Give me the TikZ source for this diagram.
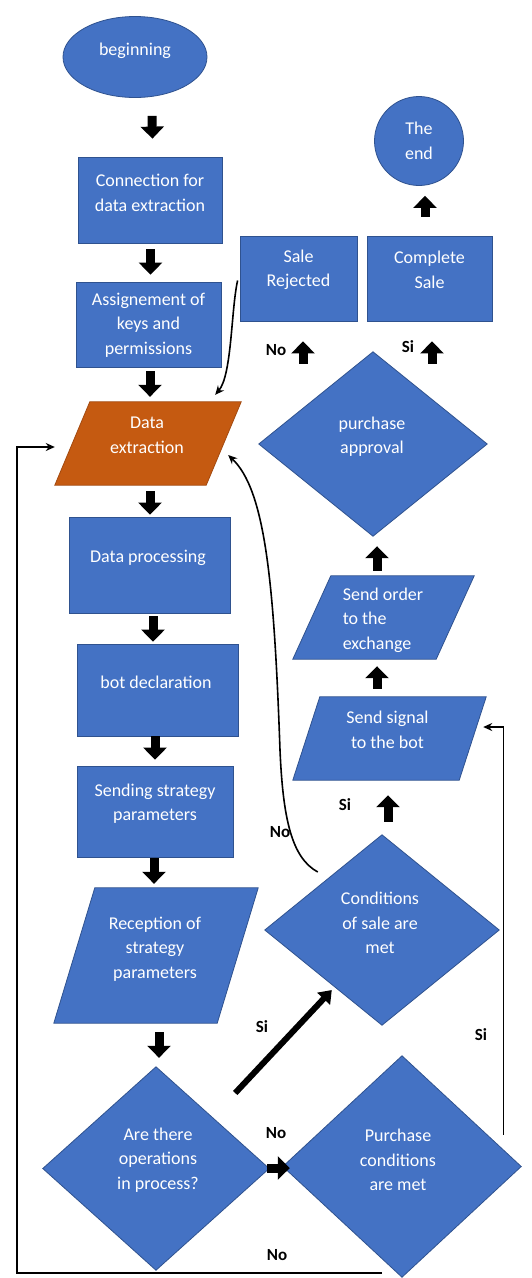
\documentclass[tikz,border=0pt]{standalone}
\usepackage{fontspec}
\setmainfont{Carlito}
\usetikzlibrary{arrows.meta,calc,shapes.geometric}
\definecolor{wblue}{HTML}{4472C4}
\definecolor{wbluedk}{HTML}{2F528F}
\definecolor{worange}{HTML}{C55A11}
\definecolor{worangedk}{HTML}{A34A10}
\begin{document}
\begin{tikzpicture}[x=1pt,y=-1pt,
  box/.style={rectangle, draw=wbluedk, fill=wblue, line width=0.8pt, inner sep=0pt},
  ell/.style={ellipse, draw=wbluedk, fill=wblue, line width=0.8pt, inner sep=0pt},
  holder/.style={rectangle, draw=none, inner sep=0pt},
  shp/.style={draw=wbluedk, fill=wblue, line width=0.8pt},
  txt/.style={text=white, align=center, inner sep=0pt, font=\fontsize{18}{24.5}\selectfont},
  lbl/.style={inner sep=0pt, font=\fontsize{17}{20}\selectfont\bfseries},
  blk/.style={line width=9pt, -{Triangle[width=23pt,length=12pt]}},
  diag/.style={line width=6pt, -{Triangle[width=17pt,length=12pt]}},
  thin/.style={line width=1.6pt, -{Stealth[width=8pt,length=9pt]}}
]
\fill[white] (0,0) rectangle (531,1278);
\useasboundingbox (0,0) rectangle (531,1278);

% ---- shape nodes ----
\node[ell, minimum width=144pt, minimum height=81pt] (beg) at (135,57) {};
\node[box, minimum width=144pt, minimum height=86pt] (conn) at (150,200) {};
\node[box, minimum width=145pt, minimum height=85pt] (assign) at (148.5,324.5) {};
\node[holder, minimum width=186pt, minimum height=83pt] (de) at (148,443.5) {};
\node[box, minimum width=161pt, minimum height=96pt] (dp) at (149.5,565) {};
\node[box, minimum width=161pt, minimum height=92pt] (bd) at (157.5,690) {};
\node[box, minimum width=156pt, minimum height=91pt] (ssp) at (155,811.5) {};
\node[holder, minimum width=204pt, minimum height=135pt] (rec) at (156,955.5) {};
\node[holder, minimum width=226pt, minimum height=203pt] (at) at (156,1168.5) {};
\node[holder, minimum width=238pt, minimum height=221pt] (pc) at (402,1166.5) {};
\node[holder, minimum width=234pt, minimum height=190pt] (cs) at (382,930) {};
\node[holder, minimum width=193pt, minimum height=83pt] (ss) at (389.5,738.5) {};
\node[holder, minimum width=181pt, minimum height=83pt] (so) at (383.5,617.5) {};
\node[holder, minimum width=228pt, minimum height=184pt] (pa) at (373,444) {};
\node[box, minimum width=117pt, minimum height=85pt] (sr) at (298.5,278.5) {};
\node[box, minimum width=125pt, minimum height=85pt] (cmp) at (429.5,278.5) {};
\node[circle, draw=wbluedk, fill=wblue, line width=0.8pt, inner sep=0pt, minimum size=89pt] (end) at (419,141) {};

% parallelograms
\path[draw=worangedk, fill=worange, line width=0.8pt] (de.south west) -- ($(de.south east)+(-35,0)$) -- (de.north east) -- ($(de.north west)+(35,0)$) -- cycle;
\path[shp] (so.south west) -- ($(so.south east)+(-38,0)$) -- (so.north east) -- ($(so.north west)+(38,0)$) -- cycle;
\path[shp] (ss.south west) -- ($(ss.south east)+(-27,0)$) -- (ss.north east) -- ($(ss.north west)+(27,0)$) -- cycle;
\path[shp] (rec.south west) -- ($(rec.south east)+(-41,0)$) -- (rec.north east) -- ($(rec.north west)+(41,0)$) -- cycle;
% diamonds
\foreach \n in {pa,cs,at,pc}{
  \path[shp] (\n.north) -- (\n.east) -- (\n.south) -- (\n.west) -- cycle;
}

% ---- texts ----
\node[txt] (beg-t) at (135,51) {beginning};
\node[txt] (conn-t) at (150,193) {Connection for\\data extraction};
\node[txt] (assign-t) at (148.5,325) {Assignement of\\keys and\\permissions};
\node[txt] (de-t) at (147,435.5) {Data\\extraction};
\node[txt] (dp-t) at (148,558) {Data processing};
\node[txt] (bd-t) at (156,682) {bot declaration};
\node[txt] (ssp-t) at (155,803.5) {Sending strategy\\parameters};
\node[txt] (rec-t) at (155,949) {Reception of\\strategy\\parameters};
\node[txt] (at-t) at (158,1160) {Are there\\operations\\in process?};
\node[txt] (pc-t) at (398,1160) {Purchase\\conditions\\are met};
\node[txt] (cs-t) at (380,923) {Conditions\\of sale are\\met};
\node[txt] (ss-t) at (387.5,730) {Send signal\\to the bot};
\node[txt, align=left] (so-t) at (383,620) {Send order\\to the\\exchange};
\node[txt] (pa-t) at (372,436.5) {purchase\\approval};
\node[txt] (sr-t) at (298.5,270) {Sale\\Rejected};
\node[txt] (cmp-t) at (429.5,270) {Complete\\Sale};
\node[txt] (end-t) at (419,141) {The\\end};

% ---- labels ----
\node[lbl] (l1) at (276,350) {No};
\node[lbl] (l2) at (408,347) {Si};
\node[lbl] (l3) at (345,805) {Si};
\node[lbl] (l4) at (280,832) {No};
\node[lbl] (l5) at (262,1027) {Si};
\node[lbl] (l6) at (481,1035) {Si};
\node[lbl] (l7) at (276,1133) {No};
\node[lbl] (l8) at (277,1255) {No};

% ---- block arrows ----
\draw[blk] ($(beg.south)+(17,18)$) -- ($(conn.north)+(2.5,-18)$);
\draw[blk] ($(conn.south)+(0.5,6)$) -- ($(assign.north)+(2,-7)$);
\draw[blk] ($(assign.south)+(1.5,4)$) -- ($(de.north)+(2,-5)$);
\draw[blk] ($(de.south)+(2,6)$) -- ($(dp.north)+(0.5,-2)$);
\draw[blk] ($(dp.south)+(3.5,3)$) -- ($(bd.north)+(-4.5,-2)$);
\draw[blk] ($(bd.south)+(-2.5,0)$) -- ($(ssp.north)+(0,-6)$);
\draw[blk] ($(ssp.south)+(-1,1)$) -- ($(rec.north)+(-2,-4)$);
\draw[blk] ($(rec.south)+(3,9)$) -- ($(at.north)+(3,-9)$);
\draw[blk] ($(cmp.north)+(-4.5,-19)$) -- ($(end.south)+(6,10)$);
\draw[blk] ($(pa.north)+(-70,12)$) -- ($(sr.south)+(4.5,20)$);
\draw[blk] ($(pa.north)+(59,12)$) -- ($(cmp.south)+(2.5,20)$);
\draw[blk] ($(so.north)+(-6.5,-5)$) -- ($(pa.south)+(4,10)$);
\draw[blk] ($(ss.north)+(-12.5,-8)$) -- ($(so.south)+(-6.5,7)$);
\draw[blk] ($(cs.north)+(6,-13)$) -- ($(ss.south)+(-1.5,15)$);
\draw[blk] ($(at.east)+(-2,-0.5)$) -- ($(pc.west)+(7,1.5)$);
\draw[diag] ($(at.east)+(-34,-75.5)$) -- ($(cs.west)+(67,60)$);

% ---- thin connectors ----
\draw[thin] ($(sr.west)+(-2,2)$) .. controls (231,310) and (232,375) .. ($(de.north east)+(-26,-7)$);
\draw[thin] ($(cs.west)+(53,-58)$) .. controls (292,858) and (283,820) .. (280,750)
   .. controls (274,580) and (265,490) .. ($(de.east)+(-13,11.5)$);
\draw[thin] ($(pc.east)!0.15!(pc.north)+(0,-15)$) |- ($(ss.east)+(-3,-11.5)$);
\draw[thin, line width=2pt] ($(pc.south)+(-20,-4)$) -| ($(de.west)+(-38,3.5)$) -- ($(de.west)+(0,3.5)$);
\end{tikzpicture}
\end{document}
